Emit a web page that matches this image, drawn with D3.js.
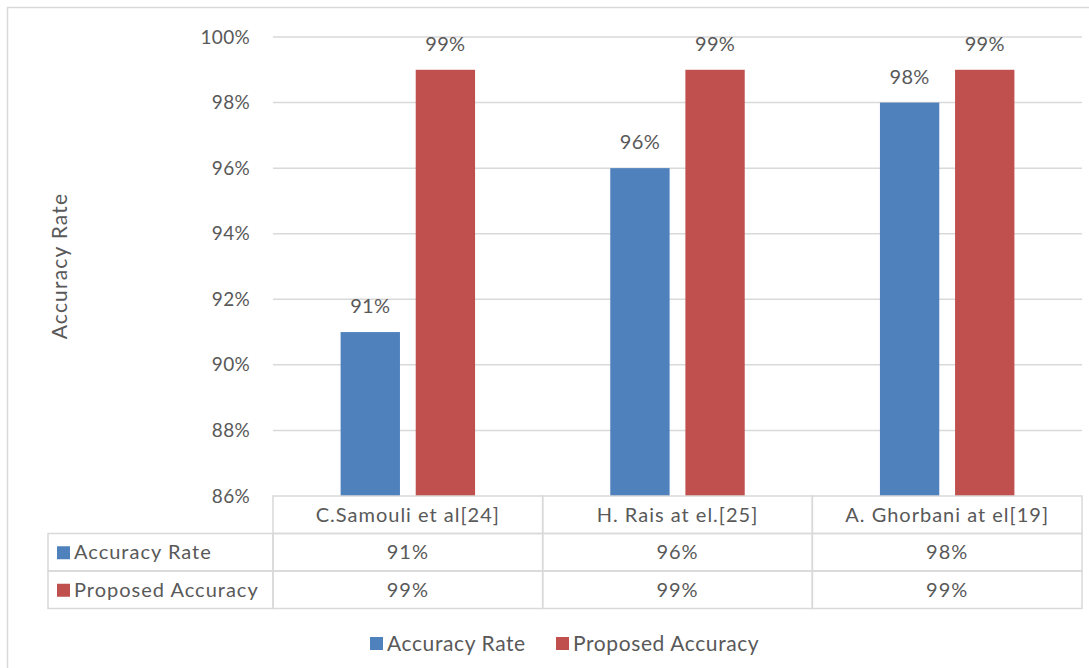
<html lang="en">
  <head>
    <meta charset="utf-8">
    <title>Accuracy Rate</title>
    <script src="https://d3js.org/d3.v7.min.js"></script>
    <style>
      body { margin: 0; background: #fff; }
      text { font-family: Lato, "Open Sans", sans-serif; fill: #595959; font-size: 20px; letter-spacing: 0.3px; }
      .tbl text { letter-spacing: 1px; }
      .grid line { stroke: #d9d9d9; stroke-width: 1.5; }
      .cell { fill: none; stroke: #d9d9d9; stroke-width: 1.5; }
    </style>
  </head>
  <body>
    <script>
    // data
    var categories = ["C.Samouli et al[24]", "H. Rais at el.[25]", "A. Ghorbani at el[19]"];
    var seriesNames = ["Accuracy Rate", "Proposed Accuracy"];
    var accuracyRate = [91, 96, 98];
    var proposedAccuracy = [99, 99, 99];
    var yTicks = [86, 88, 90, 92, 94, 96, 98, 100];
    var colors = ["#4f81bd", "#c0504d"];

    var series = [accuracyRate, proposedAccuracy];
    var W = 1089, H = 668;

    var plotLeft = 273, plotRight = 1082, plotTop = 37, plotBottom = 496;
    var rowH = 37.5;

    var svg = d3.select("body").append("svg")
      .attr("width", W).attr("height", H);

    // outer chart border
    svg.append("rect")
      .attr("x", 7.5).attr("y", 7.5)
      .attr("width", W + 10).attr("height", H + 10)
      .attr("fill", "none").attr("stroke", "#d9d9d9").attr("stroke-width", 1.5);

    var x = d3.scaleBand().domain(categories).range([plotLeft, plotRight]);
    var xs = d3.scaleBand().domain(seriesNames).range([0, x.bandwidth()])
      .paddingInner(0.21).paddingOuter(0.9);
    var y = d3.scaleLinear().domain([86, 100]).range([plotBottom, plotTop]);

    // gridlines
    svg.append("g").attr("class", "grid")
      .selectAll("line").data(yTicks.slice(1)).enter().append("line")
      .attr("x1", plotLeft).attr("x2", plotRight)
      .attr("y1", function(d) { return y(d); })
      .attr("y2", function(d) { return y(d); });

    // y axis labels
    var yAxis = d3.axisLeft(y).tickValues(yTicks)
      .tickFormat(function(d) { return d + "%"; }).tickSize(0).tickPadding(0);
    var ya = svg.append("g").attr("transform", "translate(250,0)").call(yAxis);
    ya.select(".domain").remove();
    ya.selectAll("text").attr("font-size", null).attr("font-family", null)
      .style("font-size", "19px").attr("fill", "#595959");

    // bars
    series.forEach(function(vals, s) {
      svg.append("g").selectAll("rect").data(vals).enter().append("rect")
        .attr("x", function(d, i) { return x(categories[i]) + xs(seriesNames[s]); })
        .attr("y", function(d) { return y(d); })
        .attr("width", xs.bandwidth())
        .attr("height", function(d) { return plotBottom - y(d); })
        .attr("fill", colors[s]);

      svg.append("g").selectAll("text").data(vals).enter().append("text")
        .attr("x", function(d, i) { return x(categories[i]) + xs(seriesNames[s]) + xs.bandwidth() / 2; })
        .attr("y", function(d) { return y(d) - 19; })
        .attr("text-anchor", "middle")
        .text(function(d) { return d + "%"; });
    });

    // y axis title
    svg.append("text")
      .attr("transform", "translate(67,266) rotate(-90)")
      .attr("text-anchor", "middle")
      .style("font-size", "21px")
      .style("letter-spacing", "1.2px")
      .text("Accuracy Rate");

    // data table
    var tableLeft = 48;
    var tbl = svg.append("g").attr("class", "tbl");
    // header row
    categories.forEach(function(c) {
      tbl.append("rect").attr("class", "cell")
        .attr("x", x(c)).attr("y", plotBottom)
        .attr("width", x.bandwidth()).attr("height", rowH);
      tbl.append("text")
        .attr("x", x(c) + x.bandwidth() / 2).attr("y", plotBottom + rowH / 2 + 7)
        .attr("text-anchor", "middle").text(c);
    });
    series.forEach(function(vals, s) {
      var ry = plotBottom + rowH * (s + 1);
      tbl.append("rect").attr("class", "cell")
        .attr("x", tableLeft).attr("y", ry)
        .attr("width", plotLeft - tableLeft).attr("height", rowH);
      tbl.append("rect")
        .attr("x", tableLeft + 9).attr("y", ry + rowH / 2 - 6)
        .attr("width", 13).attr("height", 13).attr("fill", colors[s]);
      tbl.append("text")
        .attr("x", tableLeft + 26).attr("y", ry + rowH / 2 + 7)
        .text(seriesNames[s]);
      vals.forEach(function(v, i) {
        tbl.append("rect").attr("class", "cell")
          .attr("x", x(categories[i])).attr("y", ry)
          .attr("width", x.bandwidth()).attr("height", rowH);
        tbl.append("text")
          .attr("x", x(categories[i]) + x.bandwidth() / 2).attr("y", ry + rowH / 2 + 7)
          .attr("text-anchor", "middle").text(v + "%");
      });
    });

    // legend
    var legendX = [370, 556];
    seriesNames.forEach(function(n, s) {
      svg.append("rect")
        .attr("x", legendX[s]).attr("y", 637)
        .attr("width", 13).attr("height", 13).attr("fill", colors[s]);
      svg.append("text")
        .attr("x", legendX[s] + 17).attr("y", 651)
        .style("font-size", "21px")
        .style("letter-spacing", "0.6px")
        .text(n);
    });
    </script>
  </body>
</html>
